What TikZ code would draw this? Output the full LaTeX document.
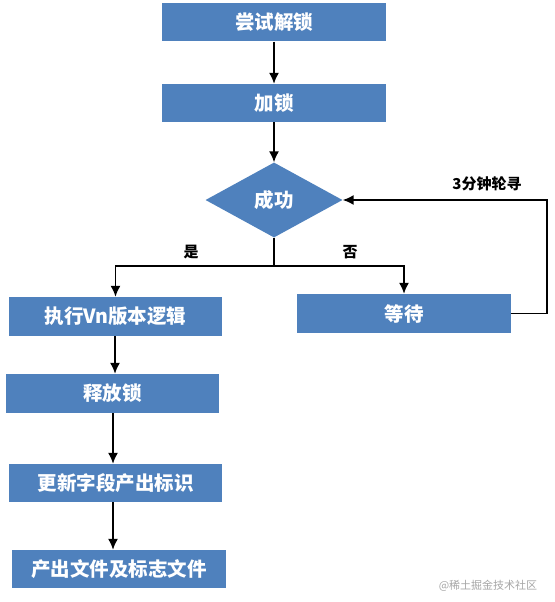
\documentclass[tikz,border=0pt]{standalone}
\usepackage{fontspec}
\newfontfamily\cjk{Noto Sans CJK SC}
\usepackage{xcolor}
\usetikzlibrary{arrows.meta,calc,positioning,shapes.geometric}
\definecolor{boxblue}{HTML}{4F81BD}
\begin{document}
\begin{tikzpicture}[x=1pt,y=-1pt,>={Latex[length=11pt,width=10pt]},
  box/.style={fill=boxblue,text=white,inner sep=0pt,minimum height=38pt,align=center,font=\cjk\bfseries\fontsize{19.5}{21}\selectfont},
  dec/.style={diamond,fill=boxblue,text=white,inner sep=0pt,minimum width=137pt,minimum height=75pt,aspect=1.8,font=\cjk\bfseries\fontsize{19.5}{21}\selectfont},
  arr/.style={->,line width=1.6pt},
  lbl/.style={font=\cjk\bfseries\fontsize{15}{17}\selectfont}]
\useasboundingbox (0,0) rectangle (554,602);
\node[box,minimum width=224pt] (try) at (274,22.5) {尝试解锁};
\node[box,minimum width=224pt] (lock) at (274,103) {加锁};
\node[dec] (ok) at (274,200) {成功};
\node[box,minimum width=214pt,minimum height=39pt] (wait) at (404,313.5) {等待};
\node[box,minimum width=213pt,minimum height=39pt] (run) at (115.5,316.5) {执行Vn版本逻辑};
\node[box,minimum width=213pt,minimum height=39pt] (free) at (112.5,393.5) {释放锁};
\node[box,minimum width=213pt] (upd) at (115.5,483) {更新字段产出标识};
\node[box,minimum width=214pt] (out) at (119,569) {产出文件及标志文件};
\coordinate (split) at (274,266);
\coordinate (loop) at (547,0);
\draw[arr] (try) -- (lock);
\draw[arr] (lock) -- (ok);
\draw[line width=1.6pt] (ok.south) -- (split);
\draw[arr] (split) -| (run.north);
\draw[arr] (split) -| (wait.north);
\draw[arr] (wait.east) -- (wait.east -| loop) |- (ok.east);
\node[lbl] (yes) at (191,252) {是};
\node[lbl] (no) at (350,252) {否};
\node[lbl] (poll) at (487,184) {3分钟轮寻};
\draw[arr] (run.south -| 115,0) -- (free.north -| 115,0);
\draw[arr] (free.south -| 113,0) -- (upd.north -| 113,0);
\draw[arr] (upd.south -| 113,0) -- (out.north -| 113,0);
\node[font=\cjk\fontsize{11}{12}\selectfont,text=black!35] (mark) at (488,586) {@稀土掘金技术社区};
\end{tikzpicture}
\end{document}
